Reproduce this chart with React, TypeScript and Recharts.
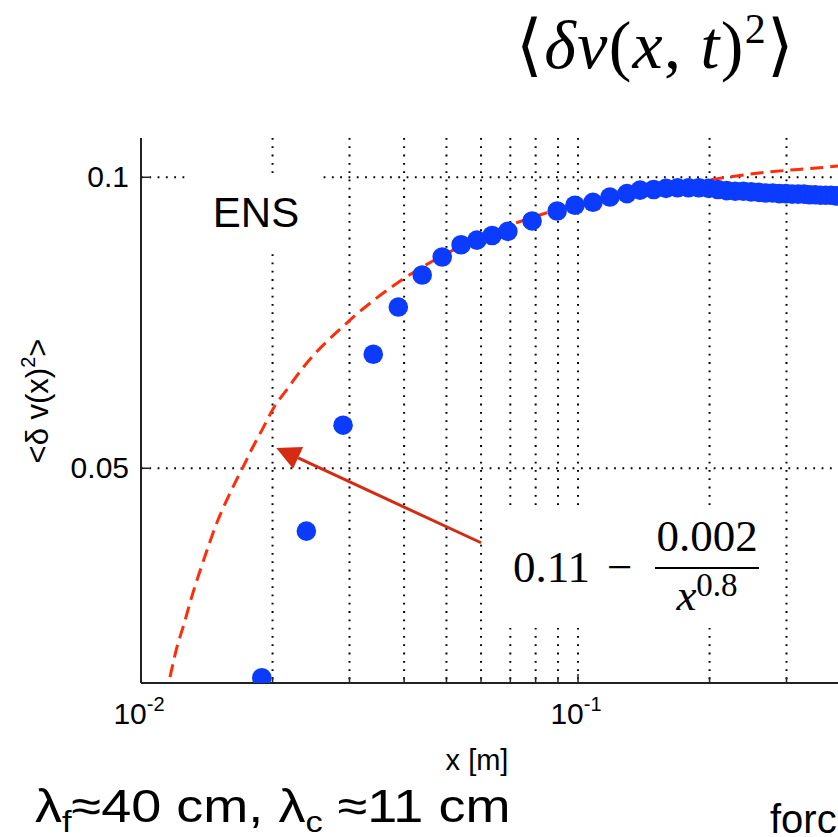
import React from "react";
import {
  ComposedChart,
  Scatter,
  Line,
  XAxis,
  YAxis,
  CartesianGrid,
  ReferenceLine,
} from "recharts";

// measured points (blue dots)
const pointX = [
  0.0189, 0.0239, 0.029, 0.034, 0.0388, 0.044, 0.0489, 0.054, 0.0587, 0.0636,
  0.0691, 0.0785, 0.0896, 0.0984, 0.1082, 0.1183, 0.1294, 0.1387, 0.149, 0.159,
  0.169, 0.179, 0.189, 0.199, 0.209, 0.219, 0.229, 0.239, 0.249, 0.259, 0.269,
  0.279, 0.289, 0.299, 0.309, 0.319, 0.329, 0.339, 0.349, 0.359, 0.369, 0.379,
  0.389, 0.399, 0.41,
];
const pointY = [
  0.014, 0.0392, 0.0574, 0.0696, 0.0777, 0.0832, 0.0863, 0.0884, 0.0892, 0.09,
  0.0907, 0.0925, 0.0942, 0.0952, 0.0957, 0.0966, 0.0972, 0.0978, 0.0979, 0.0981,
  0.0982, 0.0982, 0.0982, 0.0981, 0.0979, 0.0977, 0.0976, 0.0976, 0.0975, 0.0974,
  0.0973, 0.0973, 0.0972, 0.0972, 0.0971, 0.0971, 0.0971, 0.097, 0.097, 0.0969,
  0.0969, 0.0969, 0.0968, 0.0968, 0.0968,
];

// fit curve (red dashed)
const fitX = [
  0.01165, 0.01209, 0.01248, 0.01315, 0.01401, 0.015, 0.01573, 0.01641,
  0.01712, 0.01804, 0.01902, 0.02005, 0.0217, 0.02349, 0.02961, 0.03853,
  0.04833, 0.06526, 0.0849, 0.1165, 0.1517, 0.1973, 0.2568, 0.3636, 0.4418,
];
const fitY = [
  0.0141, 0.0193, 0.0227, 0.0286, 0.0349, 0.0411, 0.0446, 0.0475, 0.0502,
  0.0537, 0.0569, 0.0602, 0.0638, 0.0673, 0.075, 0.0818, 0.0863, 0.0909,
  0.0939, 0.0965, 0.0982, 0.0995, 0.1007, 0.1017, 0.1023,
];

const xTicks = [
  0.01, 0.02, 0.03, 0.04, 0.05, 0.06, 0.07, 0.08, 0.09, 0.1, 0.2, 0.3, 0.4,
  0.5, 0.6, 0.7, 0.8, 0.9, 1,
];
const majorTicks = [0.01, 0.1];
const majorExp = ["-2", "-1"];
const yTicks = [0.05, 0.1];
const yLabels = ["0.05", "0.1"];

const arrowTail = { x: 0.06, y: 0.0372 };
const arrowTip = { x: 0.0204, y: 0.0535 };

const points = pointX.map((x, i) => ({ x, y: pointY[i] }));
const fit = fitX.map((x, i) => ({ x, y: fitY[i] }));

const SANS = "'Liberation Sans', Arial, Helvetica, sans-serif";
const SERIF = "'Liberation Serif', 'Times New Roman', serif";
const AXIS = "#222";
const BLUE = "#0b3bff";
const RED = "#ff2d0a";
const ARROW = "#d42b12";

function BottomTick(props: any) {
  const { x, y, payload } = props;
  const i = majorTicks.indexOf(payload.value);
  const len = i >= 0 || payload.value === 1 ? 9 : 6;
  return (
    <g>
      <line x1={x} x2={x} y1={y} y2={y - len} stroke={AXIS} strokeWidth={1.5} />
      {i >= 0 && (
        <text x={x - 2} y={y + 41} textAnchor="middle" fontSize={30} fontFamily={SANS} fill="#000">
          10
          <tspan fontSize={20} dy={-13}>
            {majorExp[i]}
          </tspan>
        </text>
      )}
    </g>
  );
}

function TopTick(props: any) {
  const { x, y, payload } = props;
  const len = majorTicks.indexOf(payload.value) >= 0 ? 9 : 6;
  return <line x1={x} x2={x} y1={y} y2={y + len} stroke={AXIS} strokeWidth={1.5} />;
}

function LeftTick(props: any) {
  const { x, y, payload } = props;
  const i = yTicks.indexOf(payload.value);
  return (
    <g>
      <line x1={x} x2={x + 8} y1={y} y2={y} stroke={AXIS} strokeWidth={1.5} />
      <text x={x - 12} y={y + 10} textAnchor="end" fontSize={30} fontFamily={SANS} fill="#000">
        {yLabels[i]}
      </text>
    </g>
  );
}

function Dot(props: any) {
  return <circle cx={props.cx} cy={props.cy} r={9.8} fill={BLUE} />;
}

function Arrow(props: any) {
  const { x1, y1, x2, y2 } = props;
  const dx = x2 - x1;
  const dy = y2 - y1;
  const len = Math.hypot(dx, dy);
  const ux = dx / len;
  const uy = dy / len;
  const bx = x2 - ux * 24;
  const by = y2 - uy * 24;
  const px = -uy * 12;
  const py = ux * 12;
  return (
    <g>
      <line x1={x1} y1={y1} x2={bx} y2={by} stroke={ARROW} strokeWidth={3} />
      <polygon
        points={`${x2},${y2} ${bx + px},${by + py} ${bx - px},${by - py}`}
        fill={ARROW}
      />
    </g>
  );
}

export default function App() {
  return (
    <div
      style={{
        position: "absolute",
        left: 0,
        top: 0,
        width: 838,
        height: 837,
        overflow: "hidden",
        background: "#fff",
      }}
    >
      <ComposedChart
        width={1020}
        height={837}
        margin={{ top: 138, right: 5, bottom: 0, left: 0 }}
      >
        <CartesianGrid
          stroke="#000"
          strokeWidth={2}
          strokeDasharray="1.8 6.5"
          horizontalValues={yTicks}
        />
        <XAxis
          dataKey="x"
          type="number"
          scale="log"
          domain={[0.01, 1]}
          allowDataOverflow
          ticks={xTicks}
          interval={0}
          height={154}
          tickSize={0}
          tickMargin={0}
          tick={<BottomTick />}
          axisLine={{ stroke: AXIS, strokeWidth: 2 }}
        />
        <XAxis
          xAxisId="top"
          orientation="top"
          type="number"
          scale="log"
          domain={[0.01, 1]}
          allowDataOverflow
          ticks={xTicks}
          interval={0}
          height={0}
          tickSize={0}
          tickMargin={0}
          tick={<TopTick />}
          axisLine={{ stroke: AXIS, strokeWidth: 2 }}
        />
        <YAxis
          dataKey="y"
          type="number"
          domain={[0.0131, 0.10675]}
          allowDataOverflow
          ticks={yTicks}
          interval={0}
          width={141}
          tickSize={0}
          tickMargin={0}
          tick={<LeftTick />}
          axisLine={{ stroke: AXIS, strokeWidth: 2 }}
        />
        <Line
          data={fit}
          dataKey="y"
          type="monotone"
          stroke={RED}
          strokeWidth={3}
          strokeDasharray="13 7"
          dot={false}
          activeDot={false}
          isAnimationActive={false}
        />
        <Scatter data={points} dataKey="y" shape={<Dot />} isAnimationActive={false} />
        <ReferenceLine segment={[arrowTail, arrowTip]} shape={(p: any) => <Arrow {...p} />} />
      </ComposedChart>

      <svg
        width={838}
        height={837}
        style={{ position: "absolute", left: 0, top: 0, pointerEvents: "none" }}
      >
        {/* title */}
        <text
          x={516}
          y={68}
          fontSize={68}
          fontFamily={SERIF}
          fill="#000"
          textLength={278}
          lengthAdjust="spacing"
        >
          ⟨<tspan fontStyle="italic">δv</tspan>(<tspan fontStyle="italic">x</tspan>,{" "}
          <tspan fontStyle="italic">t</tspan>)
          <tspan fontSize={42} dy={-25}>
            2
          </tspan>
          <tspan dy={25}>⟩</tspan>
        </text>

        {/* ENS label */}
        <rect x={188} y={173} width={134} height={75} fill="#fff" />
        <text x={256} y={227} textAnchor="middle" fontSize={42} fontFamily={SANS} fill="#000">
          ENS
        </text>

        {/* fit formula */}
        <rect x={495} y={505} width={280} height={123} fill="#fff" />
        <text x={513} y={582} fontSize={45} fontFamily={SERIF} fill="#000">
          0.11
        </text>
        <text x={607} y={582} fontSize={45} fontFamily={SERIF} fill="#000">
          −
        </text>
        <text x={707} y={551} textAnchor="middle" fontSize={45} fontFamily={SERIF} fill="#000">
          0.002
        </text>
        <line x1={655} x2={759} y1={568} y2={568} stroke="#000" strokeWidth={2} />
        <text x={707} y={610} textAnchor="middle" fontSize={45} fontFamily={SERIF} fill="#000">
          <tspan fontStyle="italic">x</tspan>
          <tspan fontSize={33} dy={-14}>
            0.8
          </tspan>
        </text>

        {/* axis labels */}
        <text x={477} y={770} textAnchor="middle" fontSize={29} fontFamily={SANS} fill="#000">
          x [m]
        </text>
        <text
          transform="translate(48,401) rotate(-90)"
          textAnchor="middle"
          fontSize={31}
          fontFamily={SANS}
          fill="#000"
        >
          {"<δ v(x)"}
          <tspan fontSize={20} dy={-13}>
            2
          </tspan>
          <tspan dy={13}>{">"}</tspan>
        </text>

        {/* caption */}
        <text
          transform="translate(35,822) scale(1.15,1)"
          fontSize={47}
          fontFamily={SANS}
          fill="#000"
        >
          λ
          <tspan fontSize={30} dy={10}>
            f
          </tspan>
          <tspan dy={-10}>≈40 cm, λ</tspan>
          <tspan fontSize={30} dy={10}>
            c
          </tspan>
          <tspan dy={-10}> ≈11 cm</tspan>
        </text>
        <text x={770} y={833} fontSize={40} fontFamily={SANS} fill="#000">
          forc
        </text>
      </svg>
    </div>
  );
}
